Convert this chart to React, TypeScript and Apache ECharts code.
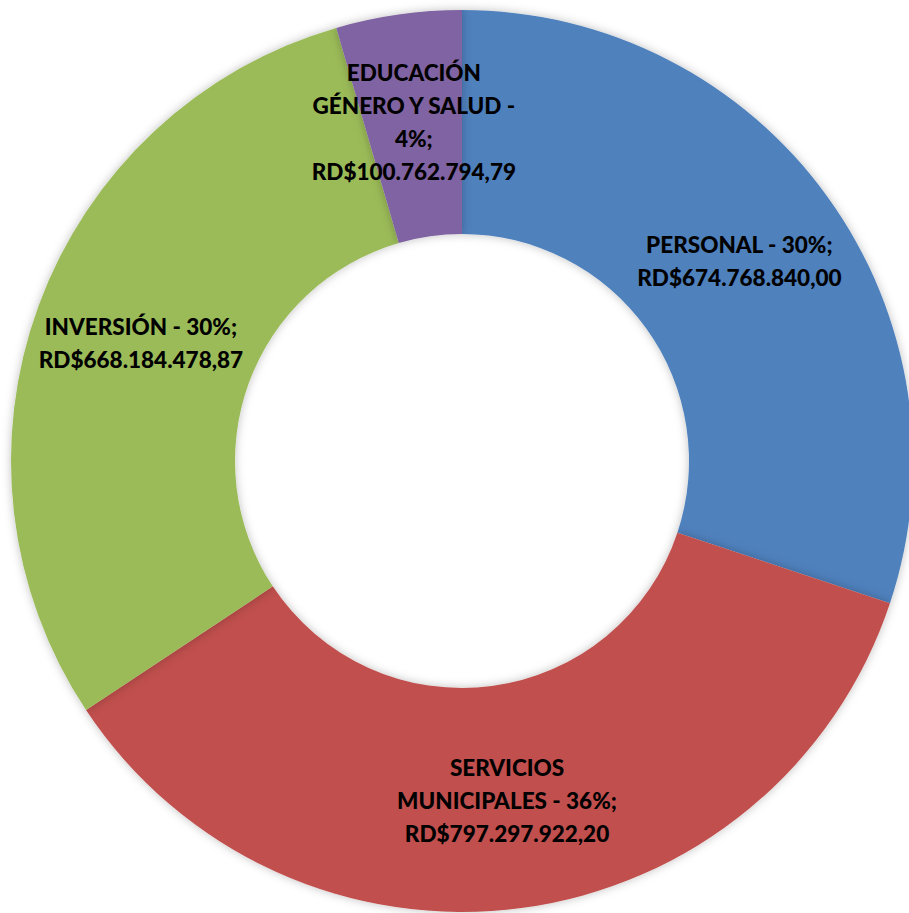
import React, { useEffect, useRef } from "react";
import * as echarts from "echarts";

const categories = ["PERSONAL", "SERVICIOS\nMUNICIPALES", "INVERSIÓN", "EDUCACIÓN\nGÉNERO Y SALUD -\n"];
const values = [674768840.0, 797297922.2, 668184478.87, 100762794.79];
const amountLabels = ["RD$674.768.840,00", "RD$797.297.922,20", "RD$668.184.478,87", "RD$100.762.794,79"];
const colors = ["#4F81BD", "#C0504D", "#9BBB59", "#8064A2"];

export default function App() {
  const ref = useRef<HTMLDivElement>(null);
  useEffect(() => {
    document.body.style.margin = "0";
    const chart = echarts.init(ref.current!, null, { renderer: "svg" });
    const total = values.reduce((a, b) => a + b, 0);
    const data = categories.map((name, i) => ({
      name,
      value: values[i],
      itemStyle: { color: colors[i] },
    }));
    chart.setOption({
      animation: false,
      backgroundColor: "#ffffff",
      series: [
        {
          type: "pie",
          center: [462, 461],
          radius: [227, 451],
          startAngle: 90,
          clockwise: true,
          avoidLabelOverlap: false,
          data,
          itemStyle: {
            shadowBlur: 10,
            shadowColor: "rgba(0,0,0,0.25)",
          },
          label: {
            show: true,
            position: "inside",
            color: "#000000",
            fontFamily: "Lato",
            fontWeight: 900,
            fontSize: 22.5,
            lineHeight: 33,
            align: "center",
            formatter: (p: any) => {
              const i = p.dataIndex;
              const pct = Math.round((values[i] / total) * 100);
              const name = categories[i];
              const sep = name.endsWith("\n") ? "" : " - ";
              return name + sep + pct + "%;\n" + amountLabels[i];
            },
          },
          labelLine: { show: false },
          emphasis: { disabled: true },
        },
      ],
    });
    return () => chart.dispose();
  }, []);
  return <div ref={ref} style={{ width: 909, height: 913 }} />;
}
